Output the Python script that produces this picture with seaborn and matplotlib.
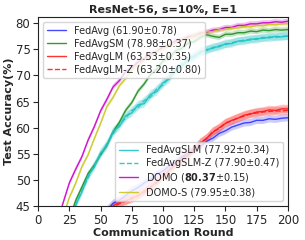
import numpy as np
import matplotlib
matplotlib.use("Agg")
import matplotlib.pyplot as plt
import seaborn as sns

# --- data (accuracy every 5 rounds) ---
rounds = np.arange(0, 201, 5)

fedavg = [10.0, 15.0, 20.0, 24.0, 28.0, 31.0, 34.0, 36.5, 38.5, 40.5,
          42.5, 44.2, 45.5, 46.1, 47.0, 47.9, 48.5, 49.4, 50.1, 51.1,
          51.7, 52.7, 53.3, 54.4, 55.0, 55.9, 56.4, 57.4, 58.0, 58.9,
          59.4, 60.1, 60.5, 60.9, 61.0, 61.4, 61.4, 61.7, 61.6, 61.8, 61.9]
fedavg_sm = [15.0, 22.0, 28.0, 33.0, 38.0, 42.5, 46.0, 48.6, 51.2, 52.8,
             54.8, 56.6, 59.2, 61.0, 63.3, 64.8, 67.0, 68.4, 70.2, 71.2,
             72.8, 73.4, 74.7, 75.2, 76.2, 76.5, 77.3, 77.8, 77.5, 77.3,
             77.9, 77.9, 78.2, 78.2, 78.5, 78.4, 78.7, 78.6, 78.8, 78.7, 78.8]
fedavg_lm = [9.0, 14.0, 19.0, 23.0, 27.0, 30.0, 33.0, 35.5, 37.5, 39.5,
             41.5, 43.6, 45.0, 45.7, 45.9, 46.6, 46.9, 47.9, 48.5, 49.7,
             50.6, 51.9, 52.9, 54.0, 54.6, 55.9, 57.0, 58.0, 59.1, 60.0,
             60.8, 61.4, 61.8, 62.4, 62.6, 63.0, 63.1, 63.4, 63.3, 63.6, 63.6]
fedavg_lm_z = [9.0, 14.0, 19.0, 23.0, 27.0, 30.0, 33.0, 35.3, 37.3, 39.3,
               41.3, 43.3, 44.8, 45.4, 46.0, 46.3, 47.1, 47.6, 48.7, 49.4,
               50.8, 51.6, 53.1, 53.8, 54.9, 55.6, 57.2, 57.9, 59.3, 59.8,
               60.9, 61.3, 61.9, 62.2, 62.7, 62.8, 63.0, 63.1, 63.2, 63.2, 63.3]
fedavg_slm = [14.0, 21.0, 27.0, 32.0, 37.0, 41.5, 45.2, 47.6, 50.8, 52.4,
              55.2, 56.4, 59.3, 60.2, 62.3, 62.8, 64.4, 64.6, 66.4, 66.9,
              68.6, 69.3, 71.2, 71.7, 73.1, 73.5, 74.6, 74.8, 75.4, 75.5,
              76.1, 76.1, 76.6, 76.6, 77.0, 76.9, 77.3, 77.2, 77.5, 77.4, 77.6]
fedavg_slm_z = [14.0, 21.0, 27.0, 32.0, 37.0, 41.3, 45.0, 48.0, 50.4, 52.9,
                54.7, 56.9, 58.8, 60.6, 61.8, 63.3, 63.9, 65.2, 65.9, 67.4,
                68.2, 69.8, 70.8, 72.1, 72.8, 73.8, 74.3, 75.0, 75.2, 75.7,
                75.9, 76.3, 76.5, 76.8, 76.8, 77.1, 77.1, 77.4, 77.3, 77.5, 77.5]
domo = [20.0, 28.0, 35.0, 41.5, 45.6, 49.4, 52.0, 54.4, 57.6, 60.2,
        63.2, 65.4, 67.8, 69.0, 70.7, 71.5, 72.6, 73.2, 74.2, 74.6,
        75.5, 75.8, 76.6, 76.8, 77.4, 77.6, 78.1, 78.3, 78.7, 78.8,
        79.2, 79.2, 79.6, 79.6, 79.9, 79.9, 80.1, 80.1, 80.3, 80.2, 80.4]
domo_s = [18.0, 26.0, 33.0, 38.5, 43.0, 46.6, 49.3, 52.5, 54.8, 57.9,
          60.8, 64.0, 65.8, 68.0, 69.4, 71.1, 71.9, 73.1, 73.7, 74.6,
          75.1, 75.9, 76.2, 76.9, 77.1, 77.7, 77.9, 78.4, 78.4, 78.8,
          78.8, 79.1, 79.1, 79.4, 79.3, 79.6, 79.5, 79.8, 79.7, 79.9, 79.9]

labels = ["FedAvg (61.90±0.78)", "FedAvgSM (78.98±0.37)",
          "FedAvgLM (63.53±0.35)", "FedAvgLM-Z (63.20±0.80)",
          "FedAvgSLM (77.92±0.34)", "FedAvgSLM-Z (77.90±0.47)",
          r"DOMO ($\mathbf{80.37}$±0.15)", "DOMO-S (79.95±0.38)"]
curves = [fedavg, fedavg_sm, fedavg_lm, fedavg_lm_z,
          fedavg_slm, fedavg_slm_z, domo, domo_s]
spread = [0.7, 0.5, 0.8, 0.8, 0.8, 0.7, 0.5, 0.5]

colors = ["#3333ff", "#1f8f1f", "#ff1a1a", "#ff1a1a",
          "#1fc4c4", "#1fc4c4", "#cc00cc", "#c8c81e"]
styles = ["-", "-", "-", "--", "-", "--", "-", "-"]

sns.set_style("ticks")
plt.rcParams["font.family"] = ["DejaVu Sans"]
plt.rcParams["mathtext.fontset"] = "dejavusans"

fig, ax = plt.subplots(figsize=(3.05, 2.4), dpi=100)
fig.subplots_adjust(left=0.125, right=0.944, bottom=0.142, top=0.929)

handles = []
for vals, lab, col, ls, sd in zip(curves, labels, colors, styles, spread):
    vals = np.array(vals)
    sns.lineplot(x=rounds, y=vals, ax=ax, color=col, linestyle=ls,
                 linewidth=1.0, alpha=0.9, label=lab, legend=False)
    handles.append(ax.lines[-1])
    ax.fill_between(rounds, vals - sd, vals + sd, color=col, alpha=0.25, lw=0)

ax.set_xlim(0, 200)
ax.set_ylim(45, 81.2)
ax.set_xticks(range(0, 201, 25))
ax.set_yticks(range(45, 81, 5))
ax.tick_params(labelsize=8.5, length=3.5, width=0.8, pad=2)
for sp in ax.spines.values():
    sp.set_linewidth(0.8)
    sp.set_color("#222222")

ax.set_xlabel("Communication Round", fontsize=8, fontweight="bold", labelpad=1)
ax.set_ylabel("Test Accuracy(%)", fontsize=8, fontweight="bold", labelpad=1)
ax.set_title("ResNet-56, s=10%, E=1", fontsize=8, fontweight="bold", pad=3)

leg1 = ax.legend(handles[:4], labels[:4], loc="upper left", fontsize=7,
                 labelspacing=0.3, framealpha=0.8)
ax.add_artist(leg1)
ax.legend(handles[4:], labels[4:], loc="lower right", fontsize=7,
          labelspacing=0.3, framealpha=0.8)

fig.savefig("out.png", dpi=100)
